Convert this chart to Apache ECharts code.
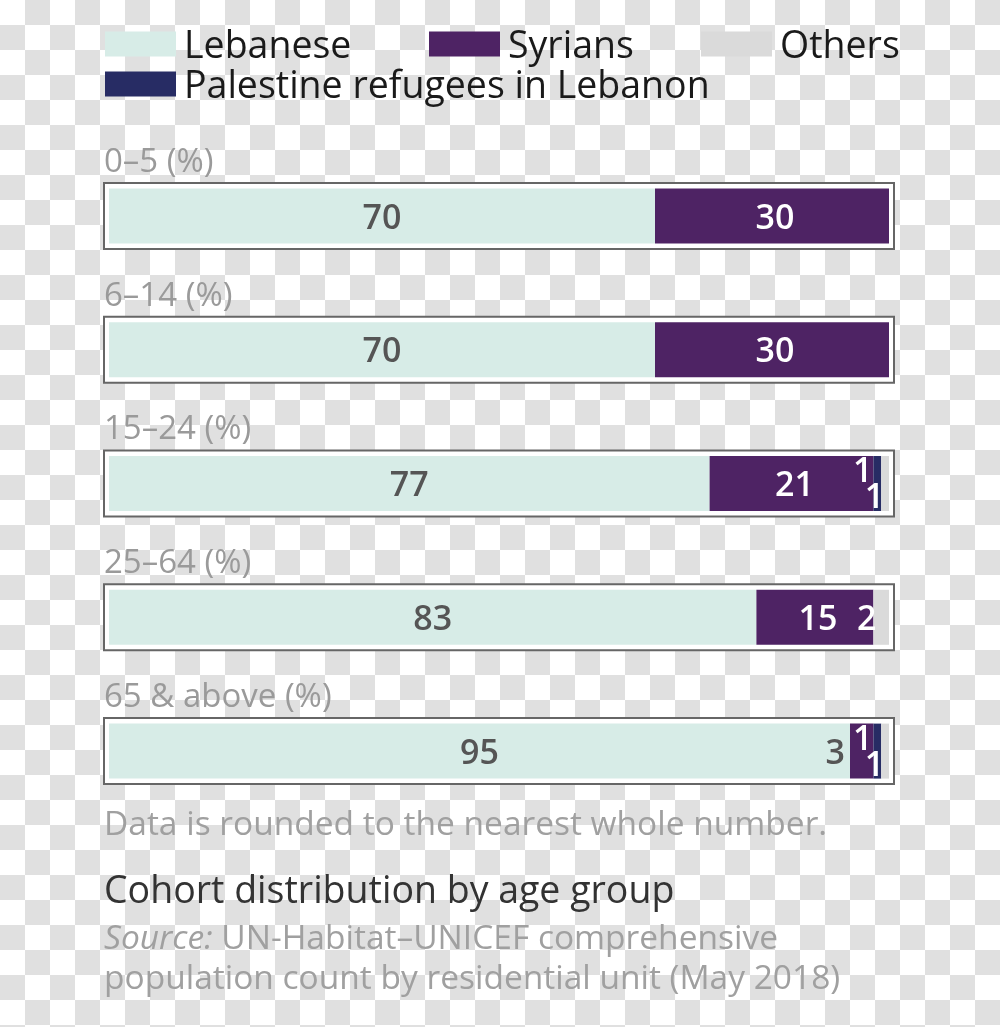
<!DOCTYPE html>
<html><head><meta charset="utf-8">
<script src="https://cdn.jsdelivr.net/npm/echarts@6/dist/echarts.min.js"></script>
<style>
html,body{margin:0;padding:0;}
body{background-color:#fff;background-image:repeating-conic-gradient(#e0e0e0 0 25%, #fff 0 50%);background-size:50px 50px;}
#c{width:1000px;height:1027px;}
</style></head><body><div id="c"></div>
<script>
const categories = ['0–5 (%)','6–14 (%)','15–24 (%)','25–64 (%)','65 & above (%)'];
const lebanese = [70,70,77,83,95];
const syrians = [30,30,21,15,3];
const palestine = [0,0,1,0,1];
const others = [0,0,1,2,1];
const seriesNames = ['Lebanese','Syrians','Palestine refugees in Lebanon','Others'];
const noteText = 'Data is rounded to the nearest whole number.';
const titleText = 'Cohort distribution by age group';
const sourceLabel = 'Source:';
const sourceLines = ['UN-Habitat–UNICEF comprehensive','population count by residential unit (May 2018)'];

const FONT = 'Open Sans';
const colors = ['#d7ece7','#4e2364','#272c64','#dadada'];
const labelBase = {fontSize:34, fontWeight:600, fontFamily:FONT};

const chart = echarts.init(document.getElementById('c'), null, {renderer:'canvas'});

function items(vals, fn){ return vals.map((v,i)=>({value:v, label:fn(v,i)})); }

const legendCommon = {icon:'rect', itemWidth:71, itemHeight:25, padding:0, selectedMode:false,
  formatter:'{a|{name}}',
  textStyle:{fontSize:37.5, color:'#1a1a1a', fontFamily:FONT,
    rich:{a:{fontSize:37.5, color:'#1a1a1a', fontFamily:FONT, padding:[6,0,0,3]}}}};

const option = {
  animation:false,
  color: colors,
  legend:[
    Object.assign({data:[seriesNames[0]], left:105, top:28}, legendCommon),
    Object.assign({data:[seriesNames[1]], left:429, top:28}, legendCommon),
    Object.assign({data:[seriesNames[3]], left:701, top:28}, legendCommon),
    Object.assign({data:[seriesNames[2]], left:105, top:68}, legendCommon)
  ],
  grid:{left:109, right:111, top:149, height:669},
  xAxis:{type:'value', min:0, max:100, show:false},
  yAxis:{type:'category', data:categories, inverse:true, show:false},
  series:[
    {name:seriesNames[0], type:'bar', stack:'t', barWidth:55, z:3,
      data: items(lebanese, v=>Object.assign({show:v>0, position:'inside', offset:[0,3], color:'#555'}, labelBase))},
    {name:seriesNames[1], type:'bar', stack:'t', barWidth:55, z:3,
      data: items(syrians, v=> v<5 ? Object.assign({show:true, position:'left', distance:5, offset:[0,3], color:'#555'}, labelBase)
                                   : Object.assign({show:true, position:'inside', offset:[3,3], color:'#fff'}, labelBase))},
    {name:seriesNames[2], type:'bar', stack:'t', barWidth:55, z:3,
      data: items(palestine, v=>Object.assign({show:v>0, position:'left', distance:1, offset:[0,-11], color:'#fff'}, labelBase))},
    {name:seriesNames[3], type:'bar', stack:'t', barWidth:55, z:3,
      data: items(others, (v,i)=>Object.assign({show:v>0, position:'left', distance:-3, offset: palestine[i]>0 ? [0,15] : [0,3], color:'#fff'}, labelBase))}
  ]
};
chart.setOption(option);

const x0 = chart.convertToPixel({xAxisIndex:0}, 0);
const x1 = chart.convertToPixel({xAxisIndex:0}, 100);
const g = [];
categories.forEach((c)=>{
  const y = chart.convertToPixel({yAxisIndex:0}, c);
  g.push({type:'rect', z:-10, shape:{x:x0-5, y:y-33, width:(x1-x0)+10, height:66},
    style:{fill:'#fff', stroke:'#666', lineWidth:2}});
  g.push({type:'text', z:5, left:x0-5, top:y-70, style:{text:c, fontSize:33, fontFamily:FONT, fill:'#9a9a9a'}});
});
g.push({type:'text', left:104, top:808, style:{text:noteText, fontSize:33.5, fontFamily:FONT, fill:'#a0a0a0'}});
g.push({type:'text', left:104, top:873, style:{text:titleText, fontSize:37.5, fontFamily:FONT, fill:'#333'}});
g.push({type:'text', left:104, top:919, style:{
  text:'{i|'+sourceLabel+'} '+sourceLines[0]+'\n'+sourceLines[1],
  fontSize:33.5, lineHeight:40, fontFamily:FONT, fill:'#a0a0a0',
  rich:{i:{fontStyle:'italic', fontSize:33.5, fontFamily:FONT, fill:'#a0a0a0', lineHeight:40}}}});
chart.setOption({graphic:{elements:g}});
</script></body></html>
